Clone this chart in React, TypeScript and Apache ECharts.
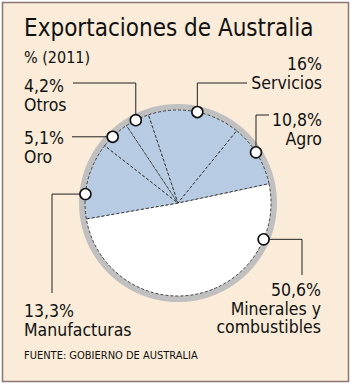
import React, { useEffect, useRef } from "react";
import * as echarts from "echarts";

const categories = ["Minerales y combustibles", "Manufacturas", "Oro", "Otros", "Servicios", "Agro"];
const labelLines = [["Minerales y", "combustibles"], ["Manufacturas"], ["Oro"], ["Otros"], ["Servicios"], ["Agro"]];
const values = [50.6, 13.3, 5.1, 4.2, 16, 10.8];
const sliceColors = ["#ffffff", "#b7cce3", "#b7cce3", "#b7cce3", "#b7cce3", "#b7cce3"];

const titleText = "Exportaciones de Australia";
const subtitleText = "% (2011)";
const sourceText = "FUENTE: GOBIERNO DE AUSTRALIA";

// layout (positions/styles only)
const CX = 178;
const CY = 203;
const R = 93;
const LH = 18.5;
const FONT = "'DejaVu Sans Condensed', 'DejaVu Sans', sans-serif";
const callouts = [
  { angle: -23, elbow: [[302, 0], [302, 275]], tx: 321, ty: 290, align: "right" },
  { angle: 174.5, elbow: [[52, 0], [52, 293]], tx: 24, ty: 311, align: "left" },
  { angle: 134.6, elbow: [[72, 0]], tx: 24, ty: 138, align: "left" },
  { angle: 117, elbow: [[0, 83], [73, 83]], tx: 24, ty: 86, align: "left" },
  { angle: 78, elbow: [[0, 83], [247, 83]], tx: 322, ty: 64, align: "right" },
  { angle: 33, elbow: [[0, 115], [269, 115]], tx: 322, ty: 120, align: "right" },
];

const fmt = (v: number) => `${String(v).replace(".", ",")}%`;

export default function App() {
  const ref = useRef<HTMLDivElement>(null);
  useEffect(() => {
    document.body.style.margin = "0";
    const chart = echarts.init(ref.current!, null, { renderer: "svg" });
    const graphics: any[] = [
      {
        type: "rect",
        shape: { x: 2.5, y: 2.5, width: 346, height: 379 },
        style: { fill: "#faecd8", stroke: "#8c7873", lineWidth: 1.5 },
        z: -10,
      },
      {
        type: "text",
        style: { text: titleText, x: 24, y: 28, font: `24px ${FONT}`, fill: "#111", verticalAlign: "middle" },
      },
      {
        type: "text",
        style: { text: subtitleText, x: 24, y: 57, font: `16px ${FONT}`, fill: "#111", verticalAlign: "middle" },
      },
      {
        type: "text",
        style: { text: sourceText, x: 24, y: 355, font: `11px ${FONT}`, fill: "#111", verticalAlign: "middle" },
      },
    ];
    categories.forEach((c, i) => {
      const co = callouts[i];
      const a = (co.angle * Math.PI) / 180;
      const mx = CX + R * Math.cos(a);
      const my = CY - R * Math.sin(a);
      const pts: number[][] = [[mx, my]];
      co.elbow.forEach((p, k) => {
        const q = [p[0], p[1]];
        if (k === 0) {
          if (q[0] === 0) q[0] = mx;
          if (q[1] === 0) q[1] = my;
        }
        pts.push(q);
      });
      graphics.push({
        type: "polyline",
        shape: { points: pts },
        style: { stroke: "#222", lineWidth: 1, fill: null },
        z: 5,
      });
      graphics.push({
        type: "circle",
        shape: { cx: mx, cy: my, r: 5.5 },
        style: { fill: "#fff", stroke: "#111", lineWidth: 1.6 },
        z: 6,
      });
      const lines = [fmt(values[i]), ...labelLines[i]];
      lines.forEach((t, j) => {
        graphics.push({
          type: "text",
          style: {
            text: t,
            x: co.tx,
            y: co.ty + j * LH,
            font: `17.5px ${FONT}`,
            fill: "#111",
            align: co.align,
            verticalAlign: "middle",
          },
          z: 6,
        });
      });
    });

    chart.setOption({
      animation: false,
      backgroundColor: "#ffffff",
      graphic: { elements: graphics },
      series: [
        {
          type: "pie",
          silent: true,
          center: [CX, CY],
          radius: [88, 99],
          z: 1,
          label: { show: false },
          labelLine: { show: false },
          itemStyle: { color: "#c0c0c0" },
          data: [{ value: 1, name: "ring" }],
        },
        {
          type: "pie",
          silent: true,
          center: [CX, CY],
          radius: R,
          startAngle: 12,
          clockwise: true,
          z: 2,
          label: { show: false },
          labelLine: { show: false },
          itemStyle: { borderColor: "#222", borderWidth: 0.8, borderType: [3, 2] },
          data: categories.map((c, i) => ({ name: c, value: values[i], itemStyle: { color: sliceColors[i] } })),
        },
      ],
    });
    return () => chart.dispose();
  }, []);
  return <div ref={ref} style={{ width: 352, height: 385 }} />;
}
